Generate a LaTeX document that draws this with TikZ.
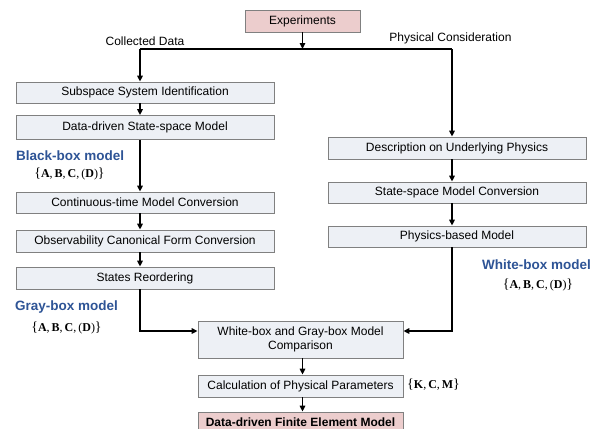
\documentclass[tikz,border=0pt]{standalone}
\usepackage{fontspec}
\setmainfont{Liberation Sans}
\newfontfamily\tnr{Liberation Serif}
\usetikzlibrary{arrows.meta}
\definecolor{boxfill}{HTML}{EDF0F5}
\definecolor{boxline}{HTML}{808080}
\definecolor{pinkfill}{HTML}{ECCDCD}
\definecolor{labelblue}{HTML}{2E5496}
\newcommand\setABCD{{\tnr{\fontsize{14}{14}\selectfont\{}\textbf{A},\,\textbf{B},\,\textbf{C},\,(\textbf{D}){\fontsize{14}{14}\selectfont\}}}}
\newcommand\setKCM{{\tnr{\fontsize{14}{14}\selectfont\{}\textbf{K},\,\textbf{C},\,\textbf{M}{\fontsize{14}{14}\selectfont\}}}}
\begin{document}
\begin{tikzpicture}[x=1pt,y=-1pt,
  box/.style={draw=boxline, fill=boxfill, line width=0.8pt, inner sep=0pt,
    font=\fontsize{12}{14}\selectfont, align=center},
  pinkbox/.style={box, fill=pinkfill},
  arr/.style={line width=1.4pt, -{Triangle[length=6pt,width=5.5pt]}},
  plain/.style={line width=1.4pt},
  lbl/.style={inner sep=0pt, font=\fontsize{12}{14}\selectfont},
  bluelbl/.style={inner sep=0pt, font=\fontsize{13.5}{15}\selectfont\bfseries, text=labelblue},
  setlbl/.style={inner sep=0pt, font=\fontsize{12}{14}\selectfont}]
\fill[white] (0,0) rectangle (590,429);
\useasboundingbox (0,0) rectangle (590,429);

% nodes
\node[pinkbox, minimum width=115pt, minimum height=22pt] (exp) at (302.5,21) {Experiments};
\node[box, minimum width=258pt, minimum height=21pt] (sub) at (145,92.5) {Subspace System Identification};
\node[box, minimum width=258pt, minimum height=24pt] (dd) at (145,127.5) {Data-driven State-space Model};
\node[box, minimum width=258pt, minimum height=21pt] (ct) at (145,202.5) {Continuous-time Model Conversion};
\node[box, minimum width=258pt, minimum height=22pt] (ob) at (145,241) {Observability Canonical Form Conversion};
\node[box, minimum width=258pt, minimum height=22pt] (sr) at (145,278) {States Reordering};
\node[box, minimum width=258pt, minimum height=22pt] (desc) at (457,148) {Description on Underlying Physics};
\node[box, minimum width=258pt, minimum height=21pt] (ssc) at (457,192.5) {State-space Model Conversion};
\node[box, minimum width=258pt, minimum height=21pt] (pb) at (457,236.5) {Physics-based Model};
\node[box, minimum width=205pt, minimum height=37pt] (cmp) at (300.5,339.5) {White-box and Gray-box Model\\Comparison};
\node[box, minimum width=205pt, minimum height=22pt] (calc) at (300.5,386) {Calculation of Physical Parameters};
\node[pinkbox, minimum width=205pt, minimum height=20pt, font=\fontsize{12}{14}\selectfont\bfseries] (fe) at (300.5,422) {Data-driven Finite Element Model};

% labels
\node[lbl] (cd) at (145,41) {Collected Data};
\node[lbl] (pc) at (450.5,38) {Physical Consideration};
\node[bluelbl, anchor=west] (bb) at (16,156) {Black-box model};
\node[setlbl] (bbset) at (69.5,174) {\setABCD};
\node[bluelbl, anchor=west] (gb) at (15,307) {Gray-box model};
\node[setlbl] (gbset) at (66.5,328) {\setABCD};
\node[bluelbl, anchor=west] (wb) at (482,265) {White-box model};
\node[setlbl] (wbset) at (538,285) {\setABCD};
\node[setlbl, anchor=west] (kcm) at (407,385) {\setKCM};

% junction coordinates
\coordinate (J) at (302.5,49);
\coordinate (L) at (140,49);
\coordinate (R) at (452,49);
\coordinate (Lc) at (140,331);
\coordinate (Rc) at (452,331);

% connectors
\draw[arr] (exp.south) -- (J);
\draw[plain] (L) -- (R);
\draw[arr] (L) -- (L |- sub.north);
\draw[arr] (L |- sub.south) -- (L |- dd.north);
\draw[arr] (L |- dd.south) -- (L |- ct.north);
\draw[arr] (L |- ct.south) -- (L |- ob.north);
\draw[arr] (L |- ob.south) -- (L |- sr.north);
\draw[arr] (L |- sr.south) -- (Lc) -- (Lc -| cmp.west);
\draw[arr] (R) -- (R |- desc.north);
\draw[arr] (R |- desc.south) -- (R |- ssc.north);
\draw[arr] (R |- ssc.south) -- (R |- pb.north);
\draw[arr] (R |- pb.south) -- (Rc) -- (Rc -| cmp.east);
\draw[arr] (J |- cmp.south) -- (J |- calc.north);
\draw[arr] (J |- calc.south) -- (J |- fe.north);
\end{tikzpicture}
\end{document}
